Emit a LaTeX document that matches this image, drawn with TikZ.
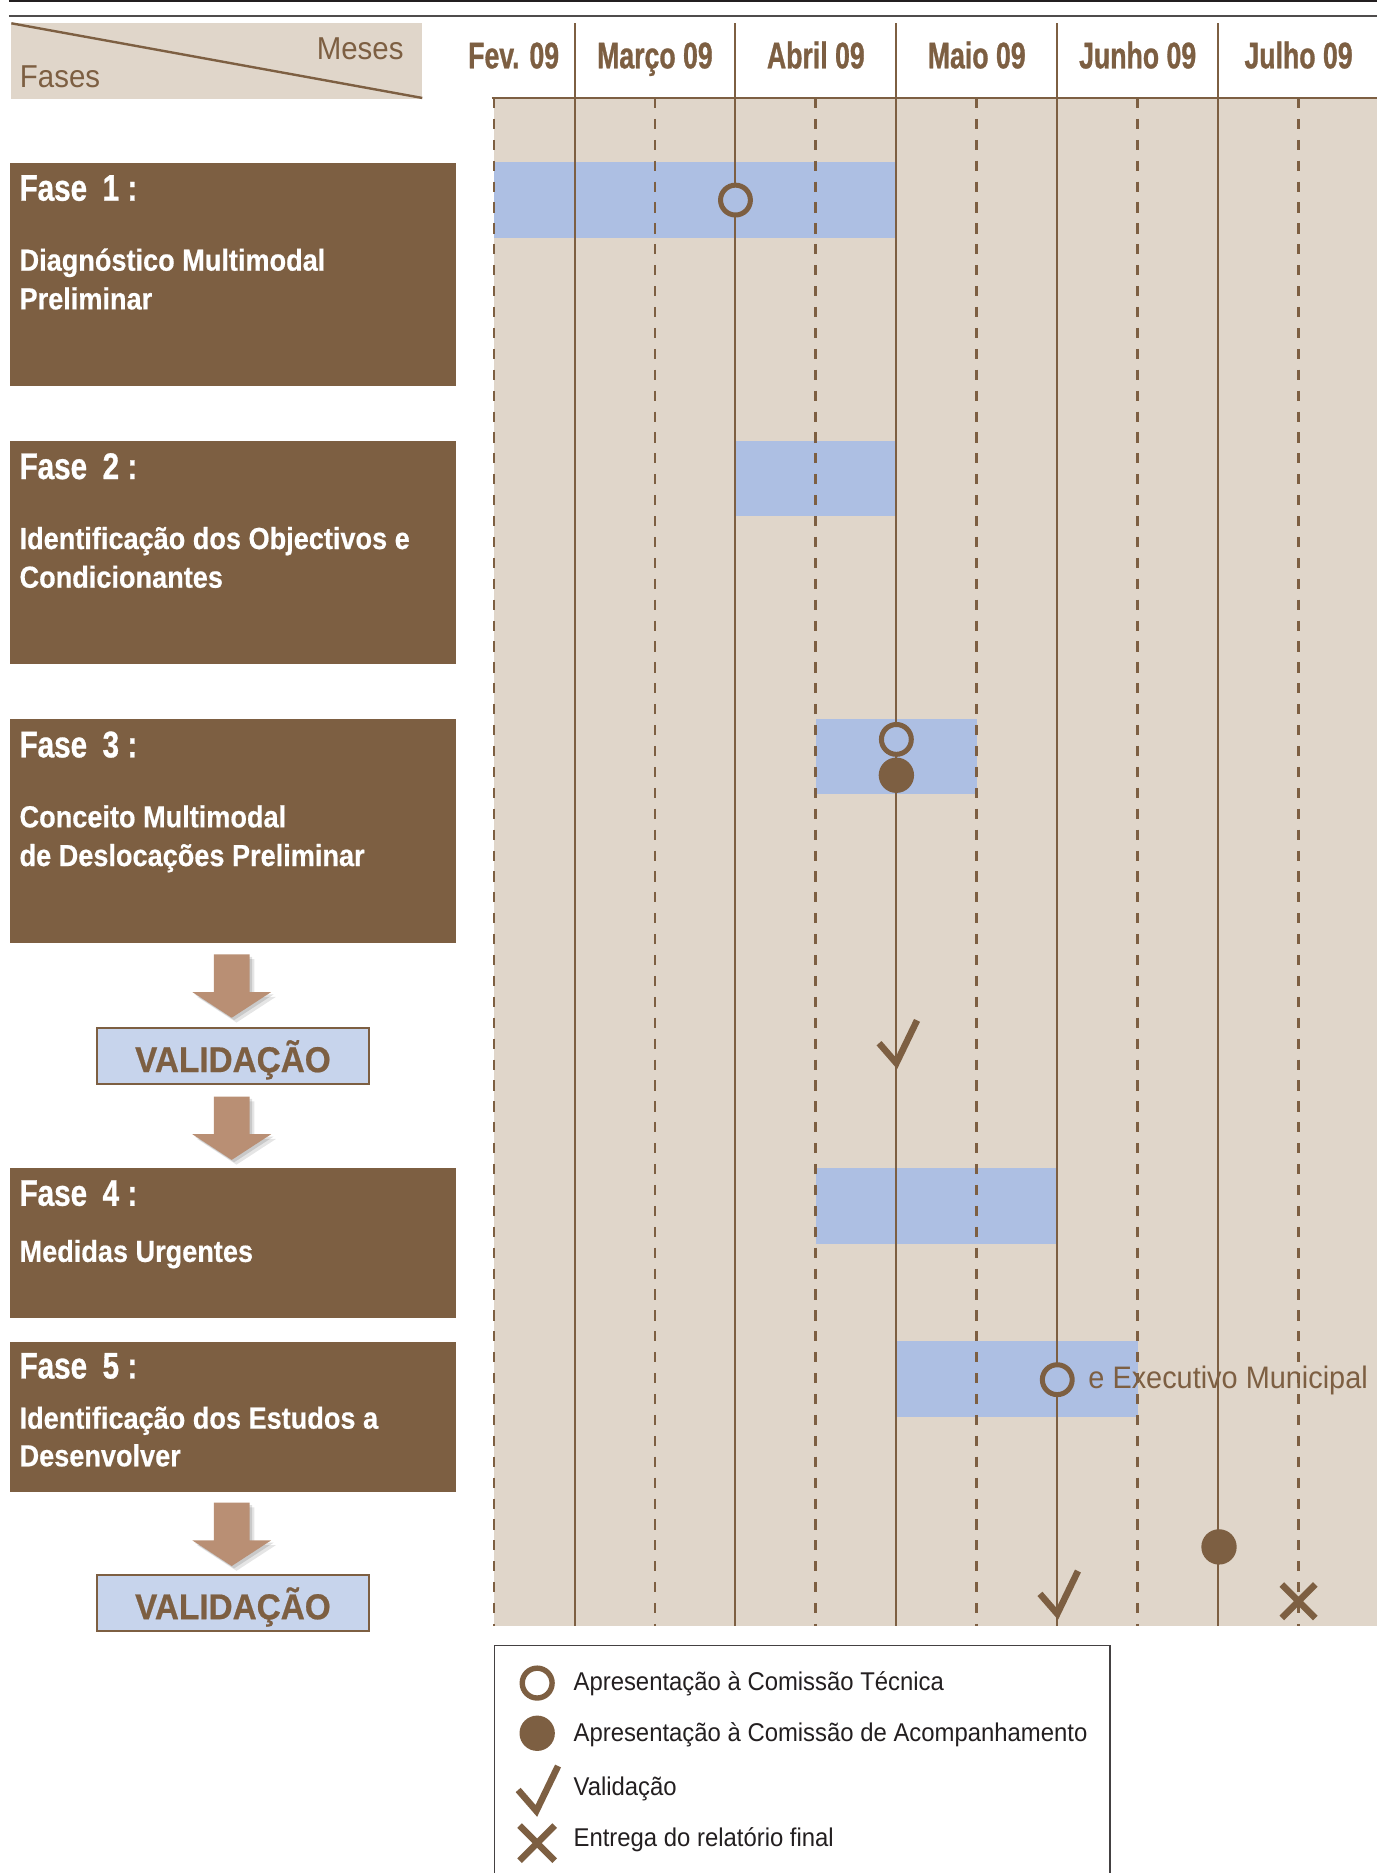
\documentclass[tikz,border=0pt]{standalone}
\usepackage{fontspec}
\setmainfont{Liberation Sans}[FakeStretch=0.93]
\newfontfamily\monthf{Liberation Sans}[FakeStretch=0.72, FakeBold=0.8]
\newfontfamily\titlef{Liberation Sans}[FakeStretch=0.8, FakeBold=0.8]
\newfontfamily\descf{Liberation Sans}[FakeStretch=0.89, FakeBold=0.5]
\newfontfamily\valf{Liberation Sans}[FakeStretch=0.93, FakeBold=0.6]
\definecolor{brn}{HTML}{7D5F42}
\definecolor{beige}{HTML}{E0D6CA}
\definecolor{barblue}{HTML}{ADBFE3}
\definecolor{valblue}{HTML}{C7D4EC}
\definecolor{arrowtan}{HTML}{B98F74}
\definecolor{ink}{HTML}{231F20}
\begin{document}
\begin{tikzpicture}[x=1pt,y=-1pt,
  phasebox/.style={fill=brn, anchor=north west, inner sep=0pt, minimum width=373.1pt},
  ptitle/.style={anchor=base west, inner sep=0pt, text=white, font=\titlef\bfseries\fontsize{31}{37}\selectfont},
  pdesc/.style={anchor=base west, inner sep=0pt, text=white, font=\descf\bfseries\fontsize{25.5}{30}\selectfont},
  mlabel/.style={anchor=base, inner sep=0pt, text=brn, font=\monthf\bfseries\fontsize{31}{37}\selectfont},
  ganttbar/.style={fill=barblue},
  solidv/.style={draw=brn, line width=1.7pt},
  dashv/.style={draw=brn, line width=2.3pt, dash pattern=on 8.5pt off 9pt},
  ocirc/.style={circle, draw=brn, line width=4.2pt, fill=barblue, minimum size=25pt, inner sep=0pt},
  fcirc/.style={circle, fill=brn, minimum size=29.6pt, inner sep=0pt},
  valbox/.style={draw=brn, line width=1.6pt, fill=valblue, minimum width=228pt, minimum height=47pt, inner sep=0pt, text=brn, font=\valf\bfseries\fontsize{30}{34}\selectfont, text height=27pt, text depth=0pt},
  legtext/.style={anchor=base west, inner sep=0pt, text=ink, font=\fontsize{21.5}{26}\selectfont},
  hdrtext/.style={inner sep=0pt, text=brn, font=\fontsize{26.5}{31}\selectfont},
  checkmk/.pic={\draw[brn, line width=5.5pt, line join=miter] (-14.5,-16.7) -- (0,0) -- (17.3,-35.8);},
  xmk/.pic={\draw[brn, line width=5.5pt] (-14,-14) -- (14,14) (-14,14) -- (14,-14);},
  blockarrow/.pic={
    \fill[black, opacity=0.10] (-11,4) -- (19,4) -- (19,35.5) -- (37,35.5) -- (4,57) -- (-29,35.5) -- (-11,35.5) -- cycle;
    \fill[black, opacity=0.12] (-13,2) -- (17,2) -- (17,33.5) -- (35,33.5) -- (2,55) -- (-31,33.5) -- (-13,33.5) -- cycle;
    \fill[arrowtan] (-15,0) -- (15,0) -- (15,31.5) -- (33,31.5) -- (0,53) -- (-33,31.5) -- (-15,31.5) -- cycle;}
]
\useasboundingbox (0,0) rectangle (1153,1568);
\fill[white] (0,0) rectangle (1153,1568);

% top rules
\draw[ink, line width=1.7pt] (7.5,0.85) -- (1153,0.85);
\draw[ink!80, line width=1.1pt] (7.5,13.4) -- (1153,13.4);

% Fases / Meses header
\fill[beige] (9.5,19) rectangle (353.5,82.5);
\draw[brn, line width=2pt] (9.5,19.5) -- (353.5,82);
\node[hdrtext, anchor=base east] (meses) at (338,49.7) {Meses};
\node[hdrtext, anchor=base west] (fases) at (16.5,73) {Fases};

% chart background
\fill[beige] (413.6,82) rectangle (1153,1361.5);

% bars
\fill[ganttbar] (413.6,136) rectangle (750.4,199);
\fill[ganttbar] (615.7,369) rectangle (750.4,432);
\fill[ganttbar] (683.0,602) rectangle (817.7,665);
\fill[ganttbar] (683.0,978) rectangle (885.1,1041);
\fill[ganttbar] (750.4,1123) rectangle (952.4,1186);

% grid
\draw[brn, line width=1.6pt] (411.5,82) -- (1153,82);
\foreach \xx in {413.6,548.3,683.0,817.7,952.4,1087.1}
  \draw[dashv] (\xx,82) -- (\xx,1361.5);
\foreach \xx in {481.0,615.7,750.4,885.1,1019.8}
  \draw[solidv] (\xx,19.5) -- (\xx,1361.5);

% month labels
\node[mlabel] (mfev) at (430,57.2) {Fev. 09};
\node[mlabel] (mmar) at (548.3,57.2) {Março 09};
\node[mlabel] (mabr) at (683.0,57.2) {Abril 09};
\node[mlabel] (mmai) at (817.7,57.2) {Maio 09};
\node[mlabel] (mjun) at (952.4,57.2) {Junho 09};
\node[mlabel] (mjul) at (1087.1,57.2) {Julho 09};

% markers
\node[ocirc] (mk1) at (615.7,167.5) {};
\node[ocirc] (mk2) at (750.4,619) {};
\node[fcirc] (mk3) at (750.4,649) {};
\pic at (750.4,890) {checkmk};
\node[ocirc] (mk4) at (885.1,1155) {};
\node[anchor=base west, inner sep=0pt, text=brn, font=\fontsize{26}{31}\selectfont] (exec) at (911,1162) {e Executivo Municipal};
\node[fcirc] (mk5) at (1020.5,1295) {};
\pic at (885.1,1351) {checkmk};
\pic at (1087.1,1340.5) {xmk};

% phase boxes
\node[phasebox, minimum height=187pt] (p1) at (8.4,136) {};
\node[ptitle] (p1t) at (16.2,168) {Fase\hspace{13pt}1\hspace{7pt}:};
\node[pdesc] (p1a) at (16.2,226.6) {Diagnóstico Multimodal};
\node[pdesc] (p1b) at (16.2,259) {Preliminar};

\node[phasebox, minimum height=187pt] (p2) at (8.4,369) {};
\node[ptitle] (p2t) at (16.2,401) {Fase\hspace{13pt}2\hspace{7pt}:};
\node[pdesc] (p2a) at (16.2,459.6) {Identificação dos Objectivos e};
\node[pdesc] (p2b) at (16.2,492) {Condicionantes};

\node[phasebox, minimum height=187pt] (p3) at (8.4,602) {};
\node[ptitle] (p3t) at (16.2,634) {Fase\hspace{13pt}3\hspace{7pt}:};
\node[pdesc] (p3a) at (16.2,692.6) {Conceito Multimodal};
\node[pdesc] (p3b) at (16.2,725) {de Deslocações Preliminar};

\node[phasebox, minimum height=126pt] (p4) at (8.4,977.4) {};
\node[ptitle] (p4t) at (16.2,1009.4) {Fase\hspace{13pt}4\hspace{7pt}:};
\node[pdesc] (p4a) at (16.2,1056.4) {Medidas Urgentes};

\node[phasebox, minimum height=125.6pt] (p5) at (8.4,1123.4) {};
\node[ptitle] (p5t) at (16.2,1154) {Fase\hspace{13pt}5\hspace{7pt}:};
\node[pdesc] (p5a) at (16.2,1196) {Identificação dos Estudos a};
\node[pdesc] (p5b) at (16.2,1227.5) {Desenvolver};

% validation flow
\coordinate (a1) at (194,799);
\coordinate (a2) at (194,918);
\coordinate (a3) at (194,1258);
\pic at (a1) {blockarrow};
\pic at (a2) {blockarrow};
\pic at (a3) {blockarrow};
\node[valbox] (v1) at (195,884) {VALIDAÇÃO};
\node[valbox] (v2) at (195,1342) {VALIDAÇÃO};

% legend
\draw[ink!85, line width=1.3pt] (414,1568) -- (414,1377.4) -- (929.3,1377.4) -- (929.3,1568);
\node[circle, draw=brn, line width=4.5pt, fill=white, minimum size=25pt, inner sep=0pt] (lg1) at (449.7,1409) {};
\node[fcirc] (lg2) at (449.7,1451) {};
\pic[scale=1.05] at (449,1516) {checkmk};
\pic[scale=1.05] at (449.7,1543) {xmk};
\node[legtext] (lt1) at (480,1415) {Apresentação à Comissão Técnica};
\node[legtext] (lt2) at (480,1458) {Apresentação à Comissão de Acompanhamento};
\node[legtext] (lt3) at (480,1503.5) {Validação};
\node[legtext] (lt4) at (480,1546) {Entrega do relatório final};
\end{tikzpicture}
\end{document}
